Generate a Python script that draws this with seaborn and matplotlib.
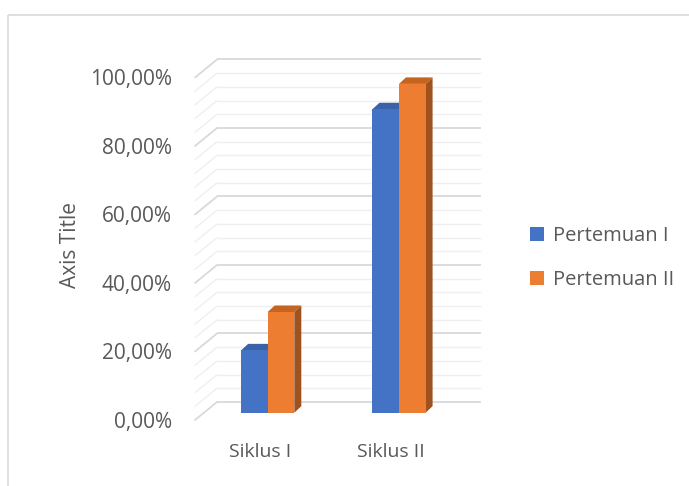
import matplotlib
matplotlib.use("Agg")
import matplotlib.pyplot as plt
import matplotlib.transforms as mtransforms
from matplotlib.patches import Polygon, Rectangle
import seaborn as sns
import pandas as pd

siklus = ["Siklus I", "Siklus II"]
pertemuan = ["Pertemuan I", "Pertemuan II"]
nilai_p1 = [18.2, 88.6]
nilai_p2 = [29.4, 96.0]
y_ticks = [0, 20, 40, 60, 80, 100]
y_labels = ["0,00%", "20,00%", "40,00%", "60,00%", "80,00%", "100,00%"]

colors = ["#4472C4", "#ED7D31"]
side_colors = ["#2F528F", "#A0521E"]
top_colors = ["#3A62A8", "#C4641F"]
text_c = "#595959"

df = pd.DataFrame({
    "Siklus": siklus * 2,
    "Pertemuan": [pertemuan[0]] * 2 + [pertemuan[1]] * 2,
    "Nilai": nilai_p1 + nilai_p2,
})

sns.set_style("white")
plt.rcParams["font.family"] = ["Open Sans", "DejaVu Sans"]

W, H = 689, 486
fig = plt.figure(figsize=(W / 100, H / 100), dpi=100)

# overlay in image pixels (top-left origin) for the 3D decorations
ov = fig.add_axes([0, 0, 1, 1], zorder=0)
ov.set_xlim(0, W)
ov.set_ylim(H, 0)
ov.axis("off")

ax = fig.add_axes([195 / W, (H - 412.7) / H, 285 / W, 342.5 / H], zorder=1)
ax.patch.set_alpha(0)
sns.barplot(data=df, x="Siklus", y="Nilai", hue="Pertemuan", hue_order=pertemuan,
            palette=colors, width=0.405, saturation=1, ax=ax, legend=True,
            linewidth=0)
ax.set_xlim(-0.554, 1.617)
ax.set_ylim(0, 100)
sns.despine(ax=ax, left=True, bottom=True)

# outer chart border
ov.add_patch(Rectangle((8, 15), W + 20, H, fill=False, edgecolor="#D9D9D9", lw=1.2))

# back wall and side wall gridlines (every 4%)
back_dy = 10.7   # back wall sits above the bar front faces
front_dy = 7.3   # front edge of floor sits below the bar front faces
wall_x0, wall_x1, side_x0 = 217, 481, 195
for v in range(0, 101, 4):
    yf = H - ax.transData.transform((0, v))[1]
    major = v % 20 == 0
    c = "#D9D9D9" if major else "#EFEFEF"
    lw = 1.3 if major else 1.0
    yb = yf - back_dy
    ov.plot([wall_x0, wall_x1], [yb, yb], color=c, lw=lw, solid_capstyle="butt", zorder=1)
    ov.plot([side_x0, wall_x0], [yf + front_dy, yb], color=c, lw=lw, zorder=1)

# 3D faces derived from the seaborn bars
dx, dy = 7, 6.5
for i, cont in enumerate(ax.containers):
    for p in cont.patches:
        (x0, y0), (x1, y1) = p.get_window_extent().get_points()
        top, bot = H - y1, H - y0
        ov.add_patch(Polygon([(x1, top), (x1 + dx, top - dy), (x1 + dx, bot - dy), (x1, bot)],
                             closed=True, facecolor=side_colors[i], edgecolor="none", zorder=3))
        ov.add_patch(Polygon([(x0, top), (x0 + dx, top - dy), (x1 + dx, top - dy), (x1, top)],
                             closed=True, facecolor=top_colors[i], edgecolor="none", zorder=3))

# axis labels
ax.set_yticks(y_ticks)
ax.set_yticklabels(y_labels)
ax.tick_params(axis="y", length=0, pad=23 * 0.72, labelsize=15, labelcolor=text_c)
ax.tick_params(axis="x", length=0, pad=21.5, labelsize=14, labelcolor=text_c)
down = mtransforms.ScaledTranslation(0, -front_dy / 100, fig.dpi_scale_trans)
for lab in ax.get_yticklabels():
    lab.set_transform(lab.get_transform() + down)
left = mtransforms.ScaledTranslation(-8 / 100, 0, fig.dpi_scale_trans)
for lab in ax.get_xticklabels():
    lab.set_transform(lab.get_transform() + left)
ax.set_xlabel("")
ax.set_ylabel("Axis Title", fontsize=15, color=text_c)
ax.yaxis.set_label_coords(-0.399, 0.49)

leg = ax.legend(loc="center left", bbox_to_anchor=(1.112, 0.451), frameon=False,
                fontsize=14.5, handlelength=0.7, handleheight=0.7, handletextpad=0.45,
                labelspacing=1.2)
for t in leg.get_texts():
    t.set_color(text_c)

fig.savefig("out.png", dpi=100)
